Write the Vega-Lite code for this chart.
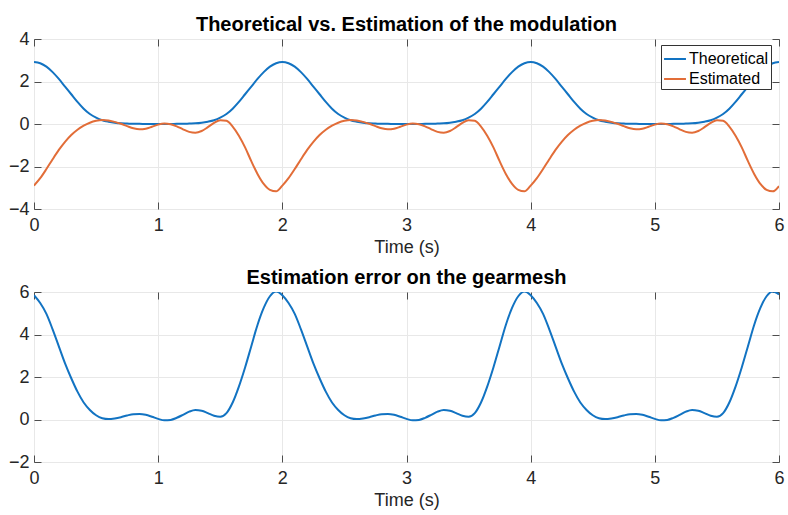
{
  "$schema": "https://vega.github.io/schema/vega-lite/v6.json",
  "background": "white",
  "padding": {"left": 7, "top": 14, "right": 0, "bottom": 2},
  "spacing": 10,
  "datasets": {
    "sig": [
      {"t":0.00,"Theoretical":2.92,"Estimated":-2.90,"Error":5.85},
      {"t":0.05,"Theoretical":2.86,"Estimated":-2.55,"Error":5.48},
      {"t":0.10,"Theoretical":2.70,"Estimated":-2.12,"Error":4.97},
      {"t":0.15,"Theoretical":2.44,"Estimated":-1.66,"Error":4.24},
      {"t":0.20,"Theoretical":2.12,"Estimated":-1.22,"Error":3.44},
      {"t":0.25,"Theoretical":1.76,"Estimated":-0.84,"Error":2.64},
      {"t":0.30,"Theoretical":1.40,"Estimated":-0.52,"Error":1.94},
      {"t":0.35,"Theoretical":1.04,"Estimated":-0.27,"Error":1.31},
      {"t":0.40,"Theoretical":0.72,"Estimated":-0.08,"Error":0.80},
      {"t":0.45,"Theoretical":0.47,"Estimated":0.06,"Error":0.45},
      {"t":0.50,"Theoretical":0.30,"Estimated":0.15,"Error":0.20},
      {"t":0.55,"Theoretical":0.18,"Estimated":0.19,"Error":0.06},
      {"t":0.60,"Theoretical":0.11,"Estimated":0.17,"Error":0.02},
      {"t":0.65,"Theoretical":0.06,"Estimated":0.10,"Error":0.05},
      {"t":0.70,"Theoretical":0.03,"Estimated":0.01,"Error":0.11},
      {"t":0.75,"Theoretical":0.02,"Estimated":-0.10,"Error":0.19},
      {"t":0.80,"Theoretical":0.01,"Estimated":-0.20,"Error":0.25},
      {"t":0.85,"Theoretical":0.01,"Estimated":-0.25,"Error":0.26},
      {"t":0.90,"Theoretical":0.00,"Estimated":-0.22,"Error":0.22},
      {"t":0.95,"Theoretical":0.00,"Estimated":-0.13,"Error":0.13},
      {"t":1.00,"Theoretical":0.00,"Estimated":-0.03,"Error":0.03},
      {"t":1.05,"Theoretical":0.00,"Estimated":0.02,"Error":-0.04},
      {"t":1.10,"Theoretical":0.00,"Estimated":-0.01,"Error":-0.02},
      {"t":1.15,"Theoretical":0.01,"Estimated":-0.11,"Error":0.08},
      {"t":1.20,"Theoretical":0.01,"Estimated":-0.25,"Error":0.22},
      {"t":1.25,"Theoretical":0.02,"Estimated":-0.37,"Error":0.37},
      {"t":1.30,"Theoretical":0.03,"Estimated":-0.41,"Error":0.45},
      {"t":1.35,"Theoretical":0.06,"Estimated":-0.33,"Error":0.41},
      {"t":1.40,"Theoretical":0.11,"Estimated":-0.15,"Error":0.30},
      {"t":1.45,"Theoretical":0.18,"Estimated":0.05,"Error":0.18},
      {"t":1.50,"Theoretical":0.30,"Estimated":0.18,"Error":0.13},
      {"t":1.55,"Theoretical":0.47,"Estimated":0.15,"Error":0.30},
      {"t":1.60,"Theoretical":0.72,"Estimated":-0.12,"Error":0.80},
      {"t":1.65,"Theoretical":1.04,"Estimated":-0.55,"Error":1.55},
      {"t":1.70,"Theoretical":1.40,"Estimated":-1.10,"Error":2.45},
      {"t":1.75,"Theoretical":1.76,"Estimated":-1.75,"Error":3.45},
      {"t":1.80,"Theoretical":2.12,"Estimated":-2.35,"Error":4.45},
      {"t":1.85,"Theoretical":2.44,"Estimated":-2.82,"Error":5.25},
      {"t":1.90,"Theoretical":2.70,"Estimated":-3.10,"Error":5.80},
      {"t":1.95,"Theoretical":2.86,"Estimated":-3.17,"Error":6.02},
      {"t":2.00,"Theoretical":2.92,"Estimated":-2.90,"Error":5.85},
      {"t":2.05,"Theoretical":2.86,"Estimated":-2.55,"Error":5.48},
      {"t":2.10,"Theoretical":2.70,"Estimated":-2.12,"Error":4.97},
      {"t":2.15,"Theoretical":2.44,"Estimated":-1.66,"Error":4.24},
      {"t":2.20,"Theoretical":2.12,"Estimated":-1.22,"Error":3.44},
      {"t":2.25,"Theoretical":1.76,"Estimated":-0.84,"Error":2.64},
      {"t":2.30,"Theoretical":1.40,"Estimated":-0.52,"Error":1.94},
      {"t":2.35,"Theoretical":1.04,"Estimated":-0.27,"Error":1.31},
      {"t":2.40,"Theoretical":0.72,"Estimated":-0.08,"Error":0.80},
      {"t":2.45,"Theoretical":0.47,"Estimated":0.06,"Error":0.45},
      {"t":2.50,"Theoretical":0.30,"Estimated":0.15,"Error":0.20},
      {"t":2.55,"Theoretical":0.18,"Estimated":0.19,"Error":0.06},
      {"t":2.60,"Theoretical":0.11,"Estimated":0.17,"Error":0.02},
      {"t":2.65,"Theoretical":0.06,"Estimated":0.10,"Error":0.05},
      {"t":2.70,"Theoretical":0.03,"Estimated":0.01,"Error":0.11},
      {"t":2.75,"Theoretical":0.02,"Estimated":-0.10,"Error":0.19},
      {"t":2.80,"Theoretical":0.01,"Estimated":-0.20,"Error":0.25},
      {"t":2.85,"Theoretical":0.01,"Estimated":-0.25,"Error":0.26},
      {"t":2.90,"Theoretical":0.00,"Estimated":-0.22,"Error":0.22},
      {"t":2.95,"Theoretical":0.00,"Estimated":-0.13,"Error":0.13},
      {"t":3.00,"Theoretical":0.00,"Estimated":-0.03,"Error":0.03},
      {"t":3.05,"Theoretical":0.00,"Estimated":0.02,"Error":-0.04},
      {"t":3.10,"Theoretical":0.00,"Estimated":-0.01,"Error":-0.02},
      {"t":3.15,"Theoretical":0.01,"Estimated":-0.11,"Error":0.08},
      {"t":3.20,"Theoretical":0.01,"Estimated":-0.25,"Error":0.22},
      {"t":3.25,"Theoretical":0.02,"Estimated":-0.37,"Error":0.37},
      {"t":3.30,"Theoretical":0.03,"Estimated":-0.41,"Error":0.45},
      {"t":3.35,"Theoretical":0.06,"Estimated":-0.33,"Error":0.41},
      {"t":3.40,"Theoretical":0.11,"Estimated":-0.15,"Error":0.30},
      {"t":3.45,"Theoretical":0.18,"Estimated":0.05,"Error":0.18},
      {"t":3.50,"Theoretical":0.30,"Estimated":0.18,"Error":0.13},
      {"t":3.55,"Theoretical":0.47,"Estimated":0.15,"Error":0.30},
      {"t":3.60,"Theoretical":0.72,"Estimated":-0.12,"Error":0.80},
      {"t":3.65,"Theoretical":1.04,"Estimated":-0.55,"Error":1.55},
      {"t":3.70,"Theoretical":1.40,"Estimated":-1.10,"Error":2.45},
      {"t":3.75,"Theoretical":1.76,"Estimated":-1.75,"Error":3.45},
      {"t":3.80,"Theoretical":2.12,"Estimated":-2.35,"Error":4.45},
      {"t":3.85,"Theoretical":2.44,"Estimated":-2.82,"Error":5.25},
      {"t":3.90,"Theoretical":2.70,"Estimated":-3.10,"Error":5.80},
      {"t":3.95,"Theoretical":2.86,"Estimated":-3.17,"Error":6.02},
      {"t":4.00,"Theoretical":2.92,"Estimated":-2.90,"Error":5.85},
      {"t":4.05,"Theoretical":2.86,"Estimated":-2.55,"Error":5.48},
      {"t":4.10,"Theoretical":2.70,"Estimated":-2.12,"Error":4.97},
      {"t":4.15,"Theoretical":2.44,"Estimated":-1.66,"Error":4.24},
      {"t":4.20,"Theoretical":2.12,"Estimated":-1.22,"Error":3.44},
      {"t":4.25,"Theoretical":1.76,"Estimated":-0.84,"Error":2.64},
      {"t":4.30,"Theoretical":1.40,"Estimated":-0.52,"Error":1.94},
      {"t":4.35,"Theoretical":1.04,"Estimated":-0.27,"Error":1.31},
      {"t":4.40,"Theoretical":0.72,"Estimated":-0.08,"Error":0.80},
      {"t":4.45,"Theoretical":0.47,"Estimated":0.06,"Error":0.45},
      {"t":4.50,"Theoretical":0.30,"Estimated":0.15,"Error":0.20},
      {"t":4.55,"Theoretical":0.18,"Estimated":0.19,"Error":0.06},
      {"t":4.60,"Theoretical":0.11,"Estimated":0.17,"Error":0.02},
      {"t":4.65,"Theoretical":0.06,"Estimated":0.10,"Error":0.05},
      {"t":4.70,"Theoretical":0.03,"Estimated":0.01,"Error":0.11},
      {"t":4.75,"Theoretical":0.02,"Estimated":-0.10,"Error":0.19},
      {"t":4.80,"Theoretical":0.01,"Estimated":-0.20,"Error":0.25},
      {"t":4.85,"Theoretical":0.01,"Estimated":-0.25,"Error":0.26},
      {"t":4.90,"Theoretical":0.00,"Estimated":-0.22,"Error":0.22},
      {"t":4.95,"Theoretical":0.00,"Estimated":-0.13,"Error":0.13},
      {"t":5.00,"Theoretical":0.00,"Estimated":-0.03,"Error":0.03},
      {"t":5.05,"Theoretical":0.00,"Estimated":0.02,"Error":-0.04},
      {"t":5.10,"Theoretical":0.00,"Estimated":-0.01,"Error":-0.02},
      {"t":5.15,"Theoretical":0.01,"Estimated":-0.11,"Error":0.08},
      {"t":5.20,"Theoretical":0.01,"Estimated":-0.25,"Error":0.22},
      {"t":5.25,"Theoretical":0.02,"Estimated":-0.37,"Error":0.37},
      {"t":5.30,"Theoretical":0.03,"Estimated":-0.41,"Error":0.45},
      {"t":5.35,"Theoretical":0.06,"Estimated":-0.33,"Error":0.41},
      {"t":5.40,"Theoretical":0.11,"Estimated":-0.15,"Error":0.30},
      {"t":5.45,"Theoretical":0.18,"Estimated":0.05,"Error":0.18},
      {"t":5.50,"Theoretical":0.30,"Estimated":0.18,"Error":0.13},
      {"t":5.55,"Theoretical":0.47,"Estimated":0.15,"Error":0.30},
      {"t":5.60,"Theoretical":0.72,"Estimated":-0.12,"Error":0.80},
      {"t":5.65,"Theoretical":1.04,"Estimated":-0.55,"Error":1.55},
      {"t":5.70,"Theoretical":1.40,"Estimated":-1.10,"Error":2.45},
      {"t":5.75,"Theoretical":1.76,"Estimated":-1.75,"Error":3.45},
      {"t":5.80,"Theoretical":2.12,"Estimated":-2.35,"Error":4.45},
      {"t":5.85,"Theoretical":2.44,"Estimated":-2.82,"Error":5.25},
      {"t":5.90,"Theoretical":2.70,"Estimated":-3.10,"Error":5.80},
      {"t":5.95,"Theoretical":2.86,"Estimated":-3.17,"Error":6.02},
      {"t":6.00,"Theoretical":2.92,"Estimated":-2.92,"Error":5.88}
    ]
  },
  "config": {
    "font": "Liberation Sans",
    "view": {"stroke": "#4d4d4d", "strokeWidth": 1},
    "axis": {
      "labelFont": "Liberation Sans",
      "labelFontSize": 18,
      "labelColor": "#262626",
      "labelFlush": false,
      "titleFont": "Liberation Sans",
      "titleFontSize": 18,
      "titleFontWeight": "normal",
      "titleColor": "#262626",
      "gridColor": "#e8e8e8",
      "gridOpacity": 1,
      "domain": false,
      "tickColor": "#4d4d4d",
      "tickSize": -7,
      "labelPadding": 12
    },
    "title": {"font": "Liberation Sans", "fontSize": 20, "fontWeight": "bold", "color": "#000000", "offset": -5, "anchor": "middle", "frame": "group"},
    "legend": {
      "orient": "none",
      "legendX": 627,
      "legendY": 6,
      "fillColor": "white",
      "strokeColor": "#333333",
      "padding": 2,
      "cornerRadius": 0,
      "symbolType": "stroke",
      "symbolStrokeWidth": 2,
      "symbolSize": 480,
      "labelFont": "Liberation Sans",
      "labelFontSize": 16,
      "labelColor": "#000000",
      "labelOffset": 2,
      "rowPadding": 0
    }
  },
  "vconcat": [
    {
      "title": "Theoretical vs. Estimation of the modulation",
      "width": 745,
      "height": 170,
      "data": {"name": "sig"},
      "transform": [{"fold": ["Theoretical", "Estimated"], "as": ["series", "value"]}],
      "layer": [
        {
          "mark": {"type": "line", "strokeWidth": 2, "interpolate": "monotone", "clip": true},
          "encoding": {
            "x": {"field": "t", "type": "quantitative", "scale": {"domain": [0, 6], "nice": false, "zero": false},
                  "axis": {"orient": "bottom", "values": [0, 1, 2, 3, 4, 5, 6], "title": "Time (s)", "labelPadding": 14}},
            "y": {"field": "value", "type": "quantitative", "scale": {"domain": [-4, 4], "nice": false},
                  "axis": {"orient": "left", "values": [-4, -2, 0, 2, 4], "title": null}},
            "color": {"field": "series", "type": "nominal",
                      "scale": {"domain": ["Theoretical", "Estimated"], "range": ["#1273c2", "#e26d38"]},
                      "legend": {"title": null, "orient": "none", "legendX": 627, "legendY": 6}}
          }
        },
        {
          "mark": {"type": "point", "opacity": 0},
          "encoding": {
            "x": {"field": "t", "type": "quantitative", "axis": {"orient": "top", "values": [0, 1, 2, 3, 4, 5, 6], "labels": false, "grid": false, "title": null, "labelPadding": 0, "minExtent": 0, "maxExtent": 0}},
            "y": {"field": "value", "type": "quantitative", "axis": {"orient": "right", "values": [-4, -2, 0, 2, 4], "labels": false, "grid": false, "title": null, "labelPadding": 0, "minExtent": 0, "maxExtent": 0}}
          }
        }
      ]
    },
    {
      "title": "Estimation error on the gearmesh",
      "width": 745,
      "height": 170,
      "data": {"name": "sig"},
      "layer": [
        {
          "mark": {"type": "line", "strokeWidth": 2, "interpolate": "monotone", "clip": true, "color": "#1273c2"},
          "encoding": {
            "x": {"field": "t", "type": "quantitative", "scale": {"domain": [0, 6], "nice": false, "zero": false},
                  "axis": {"orient": "bottom", "values": [0, 1, 2, 3, 4, 5, 6], "title": "Time (s)", "labelPadding": 14}},
            "y": {"field": "Error", "type": "quantitative", "scale": {"domain": [-2, 6], "nice": false},
                  "axis": {"orient": "left", "values": [-2, 0, 2, 4, 6], "title": null}}
          }
        },
        {
          "mark": {"type": "point", "opacity": 0},
          "encoding": {
            "x": {"field": "t", "type": "quantitative", "axis": {"orient": "top", "values": [0, 1, 2, 3, 4, 5, 6], "labels": false, "grid": false, "title": null, "labelPadding": 0, "minExtent": 0, "maxExtent": 0}},
            "y": {"field": "Error", "type": "quantitative", "axis": {"orient": "right", "values": [-2, 0, 2, 4, 6], "labels": false, "grid": false, "title": null, "labelPadding": 0, "minExtent": 0, "maxExtent": 0}}
          }
        }
      ]
    }
  ]
}
